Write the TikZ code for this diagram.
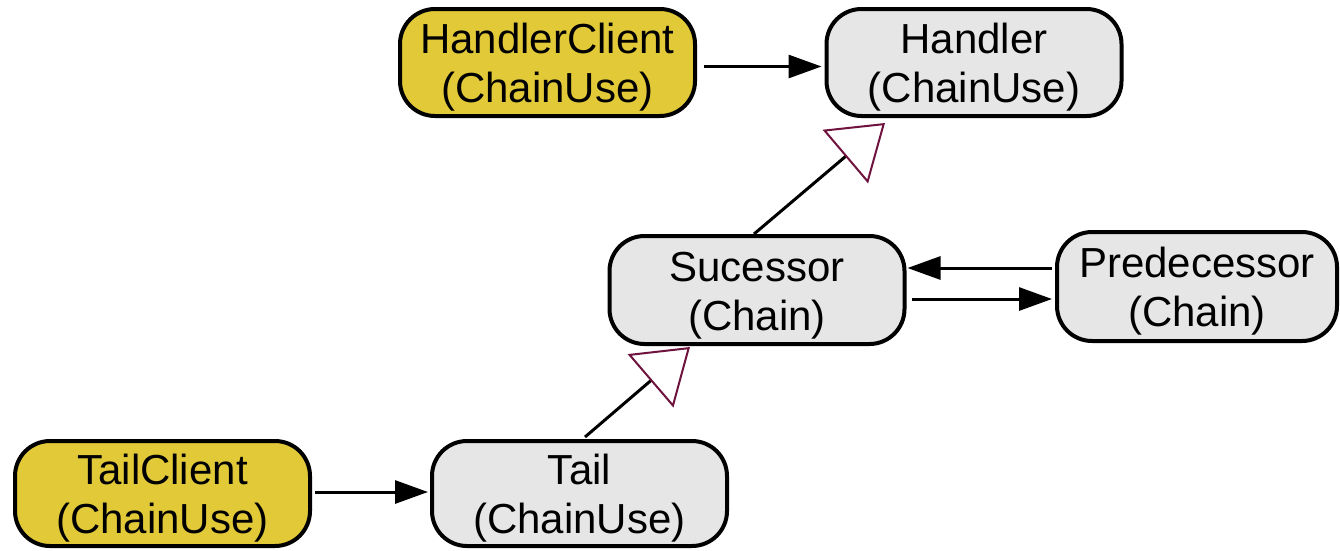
\documentclass[tikz,border=0pt]{standalone}
\usepackage{fontspec}
\setmainfont{Liberation Sans}
\usetikzlibrary{arrows.meta}
\definecolor{clientfill}{RGB}{226,201,56}
\definecolor{classfill}{RGB}{230,230,230}
\definecolor{inherit}{RGB}{110,18,62}
% extra room above the first line, so the two lines sit a little low in the box
\newcommand\toppad{\rule{0pt}{40pt}}
\begin{document}
\begin{tikzpicture}[x=1pt,y=-1pt,
  box/.style={draw=black, line width=4pt, rounded corners=35pt,
    minimum width=295pt, minimum height=107pt, inner sep=0pt,
    align=center, font=\fontsize{42}{49}\selectfont},
  client/.style={box, fill=clientfill},
  cls/.style={box, fill=classfill},
  arr/.style={line width=3pt, -{Triangle[length=33pt,width=23pt]}},
  inh/.style={line width=3pt,
    -{Triangle[open,length=52pt,width=70pt,line width=2pt,color=inherit]}}]
\useasboundingbox (0,0) rectangle (1340,550);

% classes
\node[client] (hc)   at (547.5,62.5) {\toppad HandlerClient\\(ChainUse)};
\node[cls]    (h)    at (974,62.5)   {\toppad Handler\\(ChainUse)};
\node[cls, minimum height=108pt] (suc) at (757,290) {\toppad Sucessor\\(Chain)};
\node[cls, minimum width=280pt, minimum height=109pt] (pred) at (1197,286.5) {\toppad Predecessor\\(Chain)};
\node[client, minimum height=105pt] (tc)   at (162.5,493.5) {\toppad TailClient\\(ChainUse)};
\node[cls, minimum height=105pt]    (tail) at (579.5,493.5) {\toppad Tail\\(ChainUse)};

% uses
\draw[arr] ([xshift=7pt,yshift=-4pt]hc.east) -- ([xshift=-3pt,yshift=-4pt]h.west);
\draw[arr] ([xshift=-3pt,yshift=18.5pt]pred.west) -- ([xshift=1pt,yshift=22pt]suc.east);
\draw[arr] ([xshift=5pt,yshift=-9pt]suc.east) -- ([xshift=-3pt,yshift=-12.5pt]pred.west);
\draw[arr] ([xshift=3pt,yshift=1.5pt]tc.east) -- ([xshift=-2pt,yshift=1.5pt]tail.west);

% generalisations
\draw[inh] ([xshift=-3pt]suc.north) -- ([xshift=-89pt,yshift=-5pt]h.south);
\draw[inh] ([xshift=5.5pt,yshift=2pt]tail.north) -- ([xshift=-67pt,yshift=-1pt]suc.south);
\end{tikzpicture}
\end{document}
